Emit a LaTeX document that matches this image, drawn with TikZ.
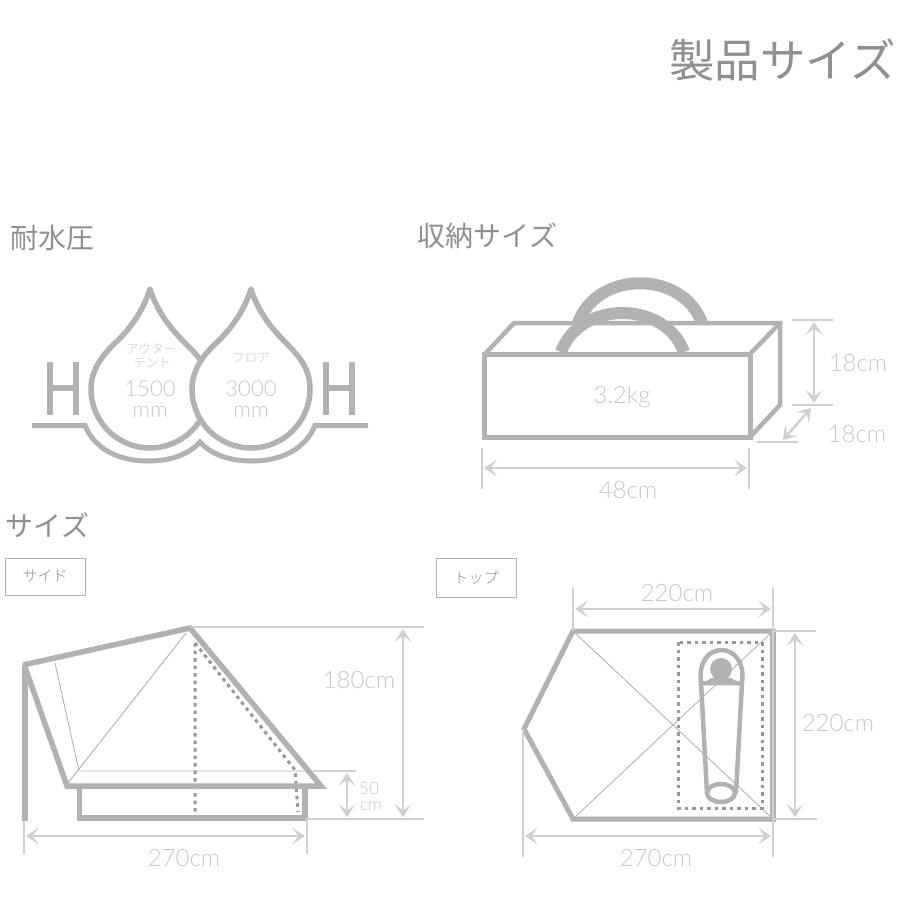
\documentclass[tikz,border=0pt]{standalone}
\usepackage{fontspec}
\setmainfont{Lato Light}
\newfontfamily\cjk{Noto Sans CJK JP Light}
\newfontfamily\cjkreg{Noto Sans CJK JP}
\usetikzlibrary{arrows.meta}
\definecolor{ink}{HTML}{B2B2B2}
\definecolor{dim}{HTML}{D0D0D0}
\definecolor{txt}{HTML}{C8C8C8}
\definecolor{head}{HTML}{909090}
\newcommand{\fs}[1]{\fontsize{#1}{#1}\selectfont}
\tikzset{
  x=1pt,y=-1pt,
  thick line/.style={draw=ink,line width=5.5pt,line join=miter},
  thin line/.style={draw=ink,line width=0.9pt},
  dots/.style={draw=ink!85!black,line width=3pt,dash pattern=on 3.5pt off 4pt},
  dimline/.style={draw=dim,line width=2pt},
  dimarrow/.style={draw=dim,line width=2.6pt,{Stealth[length=13pt,width=17pt,inset=6.5pt]}-{Stealth[length=13pt,width=17pt,inset=6.5pt]}},
  lab/.style={inner sep=0pt,text=txt,font=\fs{24}},
  small/.style={inner sep=0pt,text=txt,font=\fs{22}},
  jp/.style={inner sep=0pt,text=txt,font=\cjk\fs{12.5}},
  heading/.style={inner sep=0pt,text=head,font=\cjkreg\fs{28}},
  tag/.style={draw=ink,line width=1pt,inner sep=0pt,text=head,font=\cjk\fs{15},minimum width=80pt,minimum height=37pt},
}
\begin{document}
\begin{tikzpicture}
\useasboundingbox[fill=white] (0,0) rectangle (900,900);
% headings
\node[inner sep=0pt,text=head,font=\cjkreg\fs{45.5}] (title) at (782.5,60) {製品サイズ};
\node[heading] (h1) at (52.5,238) {耐水圧};
\node[heading] (h2) at (487.5,236) {収納サイズ};
\node[heading] (h3) at (47.5,525) {サイズ};
\node[tag] (side) at (45,576.5) {サイド};
\node[tag,minimum height=39pt] (top) at (476,577.5) {トップ};
% water pressure
\draw[thick line,line join=round]
  (150,289) .. controls (158,315) and (175,333) .. (187,345)
  .. controls (203,360) and (209,372) .. (209,389)
  .. controls (209,421.6) and (182.6,448) .. (150,448)
  .. controls (117.4,448) and (91,421.6) .. (91,389)
  .. controls (91,372) and (100,358) .. (113,345)
  .. controls (126,333) and (142,315) .. (150,289) -- cycle;
\draw[thick line,fill=white,line join=round]
  (251,289) .. controls (259,315) and (276,333) .. (288,345)
  .. controls (303,360) and (310,372) .. (310,389)
  .. controls (310,421.6) and (283.6,448) .. (251,448)
  .. controls (218.4,448) and (192,421.6) .. (192,389)
  .. controls (192,372) and (201,358) .. (214,345)
  .. controls (227,333) and (243,315) .. (251,289) -- cycle;
\draw[thick line,line width=5pt]
  (32,425.5) -- (85,425.5) .. controls (95,450) and (120,461) .. (148,461)
  .. controls (170,461) and (188,455) .. (200,442)
  .. controls (212,455) and (230,461) .. (252,461)
  .. controls (280,461) and (305,450) .. (315,425.5) -- (368,425.5);
\draw[draw=ink,line width=6pt] (49.5,362) -- (49.5,415) (75.5,362) -- (75.5,415) (49.5,387.5) -- (75.5,387.5);
\draw[draw=ink,line width=6pt] (325.5,362) -- (325.5,415) (351.5,362) -- (351.5,415) (325.5,387.5) -- (351.5,387.5);
\node[jp] (w1) at (151,349) {アウター};
\node[jp] (w2) at (152,363) {テント};
\node[small] (w3) at (150,388.5) {1500};
\node[small] (w4) at (150,411.5) {mm};
\node[jp] (w5) at (251,358) {フロア};
\node[small] (w6) at (251,388.5) {3000};
\node[small] (w7) at (251,411.5) {mm};
% storage bag
\draw[draw=ink,line width=4.5pt,line join=miter] (485,354) -- (514,323) -- (780,323) -- (780,405) -- (750,437);
\draw[draw=ink,line width=4.5pt] (750,354) -- (780,323);
\draw[draw=ink,line width=12pt] (578,323) .. controls (597,270) and (683,270) .. (702,323);
\draw[draw=ink,line width=12pt] (561,352) .. controls (580,300) and (665,300) .. (684,352);
\draw[draw=ink,line width=5pt] (484.5,354.5) rectangle (750,437);
\node[lab] (kg) at (622,397) {3.2kg};
\coordinate (a1) at (482,448); \coordinate (a2) at (482,489);
\coordinate (a3) at (749,448); \coordinate (a4) at (749,489);
\draw[dimline] (a1) -- (a2) (a3) -- (a4);
\draw[dimarrow] (484,468) -- (747,468);
\node[lab] (b48) at (628,490) {48cm};
\draw[dimline] (792,320) -- (833,320) (792,405) -- (833,405) (757,442) -- (798,442);
\draw[dimarrow] (814,322) -- (814,403);
\draw[dimarrow] (783,440) -- (811,408);
\node[lab] (b18a) at (858,363) {18cm};
\node[lab] (b18b) at (857,434) {18cm};
% side view
\draw[thin line] (55,663) -- (79,771) (186,633) -- (68,783) (80,771) -- (305,771);
\draw[dots] (195,643) -- (195,812) (195,643) -- (295,770) -- (298,812);
\draw[draw=ink,line width=6pt] (25,665) -- (25,821);
\draw[thick line] (23,665) -- (190,628) -- (321,786) -- (67,786) -- (25,667);
\draw[thick line] (79.5,786) -- (79.5,818) -- (305,818) -- (305,786);
\draw[dimline] (190,627) -- (424,627) (306,819) -- (424,819) (313,771) -- (356,771) (24,821) -- (24,854) (307,819) -- (307,854);
\draw[dimarrow] (403,629) -- (403,817);
\draw[dimarrow] (347,773) -- (347,817);
\draw[dimarrow] (26,836) -- (305,836);
\node[lab] (s180) at (359,680) {180cm};
\node[lab,font=\fs{17}] (s50) at (369,788) {50};
\node[lab,font=\fs{17}] (scm) at (371,806.5) {cm};
\node[lab] (s270) at (184,858) {270cm};
% top view
\draw[thin line] (573,631) -- (773,819) (573,819) -- (773,631);
\draw[dots] (678,642) rectangle (762,808);
\draw[draw=ink,line width=5pt,line join=miter] (773,631) -- (573,631) -- (524,729) -- (573,819) -- (773,819);
\draw[draw=ink,line width=5.5pt] (773,628.5) -- (773,821.5);
\fill[ink] (721,669) circle[radius=11];
\fill[ink] (705,684) .. controls (708,674) and (734,674) .. (738,684) -- cycle;
\draw[draw=ink,line width=4.5pt] (701,683) .. controls (695,639) and (748,639) .. (742,683) -- (736,793) (701,683) -- (707,793) (701,683) -- (742,683);
\draw[draw=ink,line width=4.5pt] (721,793) ellipse[x radius=14,y radius=9];
\draw[dimline] (573,588) -- (573,631) (773,588) -- (773,857) (773,631) -- (816,631) (773,819) -- (817,819) (523,729) -- (523,857);
\draw[dimarrow] (575,609) -- (771,609);
\draw[dimarrow] (795,633) -- (795,817);
\draw[dimarrow] (525,836) -- (771,836);
\node[lab] (t220a) at (677,593) {220cm};
\node[lab] (t220b) at (838,723) {220cm};
\node[lab] (t270) at (656,858) {270cm};
\end{tikzpicture}
\end{document}
